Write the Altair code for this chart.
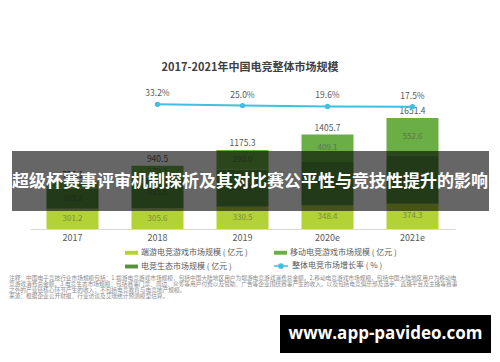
import altair as alt
import pandas as pd

years = ["2017", "2018", "2019", "2020e", "2021e"]
pc_values = [301.2, 305.6, 330.5, 348.4, 374.3]          # 端游 (bottom)
eco_values = [303.2, 455.8, 554.8, 648.2, 724.5]        # middle segment
mobile_values = [101.7, 179.1, 290.0, 409.1, 552.6]     # top segment
totals = [706.1, 940.5, 1175.3, 1405.7, 1651.4]
rate_years = ["2018", "2019", "2020e", "2021e"]
rates = [33.2, 25.0, 19.6, 17.5]

s_pc = "端游电竞游戏市场规模 ( 亿元 )"
s_mob = "移动电竞游戏市场规模 ( 亿元 )"
s_eco = "电竞生态市场规模 ( 亿元 )"
s_rate = "整体电竞市场增长率 ( % )"
legend_order = [s_pc, s_eco, s_mob]
legend_colors = ["#b3d236", "#56923a", "#6aae45"]
stack_rank = {s_pc: 0, s_eco: 1, s_mob: 2}

title = "2017-2021年中国电竞整体市场规模"
banner = "超级杯赛事评审机制探析及其对比赛公平性与竞技性提升的影响"
watermark = "www.app-pavideo.com"
notes = [
    "注释：中国电子竞技行业市场规模包括：1.端游电竞游戏市场规模，包括中国大陆地区用户为端游电竞游戏消费总金额。2.移动电竞游戏市场规模，包括中国大陆地区用户为移动电",
    "竞游戏消费总金额。3.电竞生态市场规模：包括赛事门票、周边、众筹等用户付费以及赞助、广告等企业围绕赛事产生的收入，以及包括电竞俱乐部及选手、直播平台及主播等赛事",
    "之外的产业链核心环节产生的收入；不包括电竞教育与电竞地产规模。",
    "来源：根据企业公开财报、行业访谈及艾瑞统计预测模型估算。",
]

rows = []
for i, y in enumerate(years):
    rows.append({"year": y, "series": s_pc, "value": pc_values[i], "rank": stack_rank[s_pc]})
    rows.append({"year": y, "series": s_eco, "value": eco_values[i], "rank": stack_rank[s_eco]})
    rows.append({"year": y, "series": s_mob, "value": mobile_values[i], "rank": stack_rank[s_mob]})
bars_df = pd.DataFrame(rows)
tot_df = pd.DataFrame({"year": years, "total": totals})
rate_df = pd.DataFrame({"year": rate_years, "rate": rates, "name": [s_rate] * len(rates)})

FONT = "Noto Sans CJK SC"
GREY = "#595959"

xenc = alt.X("year:N", sort=years, scale=alt.Scale(domain=years),
             axis=alt.Axis(title=None, labelAngle=0, ticks=False, domainColor="#d9d9d9",
                           labelColor=GREY, labelFontSize=9, labelPadding=4, labelFont=FONT))
ybar = alt.Scale(domain=[0, 2515], nice=False, zero=True)

bars = alt.Chart(bars_df).mark_bar(size=52).encode(
    x=xenc,
    y=alt.Y("value:Q", stack="zero", scale=ybar, axis=None),
    color=alt.Color("series:N", scale=alt.Scale(domain=legend_order, range=legend_colors),
                    legend=alt.Legend(title=None, orient="none", legendX=95, legendY=186,
                                      columns=2, columnPadding=26, rowPadding=3,
                                      symbolType="M-1,-0.3H1V0.3H-1Z", symbolSize=169,
                                      symbolStrokeWidth=0, labelFontSize=8, labelColor=GREY,
                                      labelFont=FONT, labelOffset=3, labelLimit=200)),
    order=alt.Order("rank:Q"),
)

seg_labels = alt.Chart(bars_df).transform_stack(
    stack="value", groupby=["year"], as_=["v0", "v1"], sort=[alt.SortField("rank")]
).transform_calculate(mid="(datum.v0 + datum.v1) / 2").mark_text(
    fontSize=8, color="#4d4d4d", opacity=0.55, font=FONT
).encode(x=alt.X("year:N", sort=years), y=alt.Y("mid:Q", scale=ybar, axis=None),
         text=alt.Text("value:Q", format=".1f"))

tot_labels = alt.Chart(tot_df).mark_text(fontSize=8.5, color=GREY, dy=-7, font=FONT).encode(
    x=alt.X("year:N", sort=years), y=alt.Y("total:Q", scale=ybar, axis=None),
    text=alt.Text("total:Q", format=".1f"))

base_bars = alt.layer(bars, seg_labels, tot_labels)

yrate = alt.Scale(domain=[-782, 323], nice=False, zero=False)
line = alt.Chart(rate_df).mark_line(strokeWidth=2).encode(
    x=alt.X("year:N", sort=years),
    y=alt.Y("rate:Q", scale=yrate, axis=None),
    stroke=alt.Stroke("name:N", scale=alt.Scale(domain=[s_rate], range=["#3fbfe2"]),
                      legend=alt.Legend(title=None, orient="none", legendX=243, legendY=198,
                                        symbolType="M-1,0H1M-0.3,0A0.3,0.3,0,1,0,0.3,0A0.3,0.3,0,1,0,-0.3,0",
                                        symbolSize=196, symbolStrokeWidth=1.5, symbolFillColor="#3fbfe2",
                                        labelFontSize=8, labelColor=GREY, labelFont=FONT,
                                        labelOffset=3, labelLimit=200)),
)
pts = alt.Chart(rate_df).mark_point(filled=True, size=28, color="#3fbfe2", opacity=1).encode(
    x=alt.X("year:N", sort=years), y=alt.Y("rate:Q", scale=yrate, axis=None))
rate_labels = alt.Chart(rate_df).transform_calculate(lab="format(datum.rate, '.1f') + '%'").mark_text(
    fontSize=8.5, color=GREY, dy=-11, font=FONT).encode(
    x=alt.X("year:N", sort=years), y=alt.Y("rate:Q", scale=yrate, axis=None), text="lab:N")

base_rate = alt.layer(line, pts, rate_labels)

one = pd.DataFrame({"k": [0]})
title_t = alt.Chart(one).mark_text(text=title, fontSize=11, fontWeight="bold", color="#404040",
                                   font=FONT, align="center", baseline="middle").encode(
    x=alt.value(220), y=alt.value(8))

note_layers = []
for i, t in enumerate(notes):
    note_layers.append(
        alt.Chart(one).mark_text(text=t, fontSize=5.7, color="#8c8c8c", font=FONT,
                                 align="left", baseline="middle").encode(
            x=alt.value(-21), y=alt.value(218 + i * 6)))

banner_r = alt.Chart(one).mark_rect(color="black", opacity=0.6).encode(
    x=alt.value(-18), x2=alt.value(459), y=alt.value(91), y2=alt.value(151))
banner_t = alt.Chart(one).mark_text(text=banner, fontSize=17, fontWeight="bold", color="white",
                                    font=FONT, align="center", baseline="middle").encode(
    x=alt.value(220), y=alt.value(122))
wm_r = alt.Chart(one).mark_rect(color="black").encode(
    x=alt.value(250), x2=alt.value(461), y=alt.value(255), y2=alt.value(293))
wm_t = alt.Chart(one).mark_text(text=watermark, fontSize=17, fontWeight="bold", color="white",
                                font="Open Sans", align="center", baseline="middle").encode(
    x=alt.value(355.5), y=alt.value(274))

chart = alt.layer(base_bars, base_rate, title_t, *note_layers, banner_r, banner_t, wm_r, wm_t).resolve_scale(
    y="independent", color="independent"
).properties(
    width=425, height=169,
    autosize=alt.AutoSizeParams(type="none"),
    padding={"left": 22, "top": 52, "right": 37, "bottom": 125},
).configure(font=FONT).configure_view(stroke=None)

chart.save("out.html", embed_options={"renderer": "svg", "actions": False})
